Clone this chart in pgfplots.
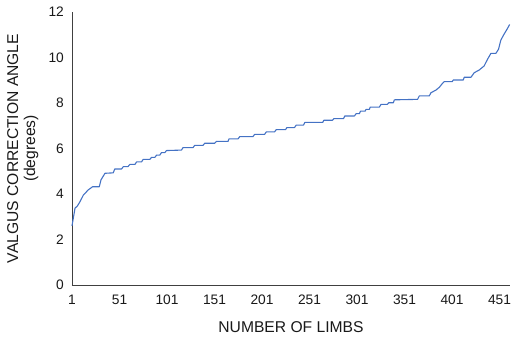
\documentclass[border=0pt]{standalone}
\usepackage{fontspec}
\setmainfont{Liberation Sans}
\usepackage{pgfplots}
\pgfplotsset{compat=1.18}
\definecolor{lineblue}{HTML}{4472C4}
\definecolor{axgray}{HTML}{404040}
\begin{document}
\begin{tikzpicture}
\begin{axis}[
  scale only axis,
  width=438bp, height=273bp,
  xmin=1, xmax=462, ymin=0, ymax=12,
  axis x line=bottom, axis y line=left,
  axis line style={axgray, line width=1pt, -},
  xtick={1,51,101,151,201,251,301,351,401,451},
  ytick={0,2,4,6,8,10,12},
  major tick length=0pt,
  tick label style={font=\fontsize{13.8}{15}\selectfont, /pgf/number format/assume math mode=true, text=black!90},
  /pgf/number format/1000 sep={},
  xticklabel style={anchor=center, yshift=-15bp},
  yticklabel style={anchor=east, inner sep=0pt, xshift=-8bp},
  xlabel={NUMBER OF LIMBS},
  ylabel={VALGUS CORRECTION ANGLE\\(degrees)},
  label style={font=\fontsize{15.7}{17}\selectfont, text=black!90},
  xlabel style={at={(axis description cs:0.5,-0.1538)}, anchor=center},
  ylabel style={at={(axis description cs:-0.1125,0.5)}, anchor=center, align=center},
  clip=false,
]
\addplot[lineblue, line width=1.1pt, line join=round] coordinates {
(1,2.6) (4.2,3.38) (6.6,3.47) (9.4,3.66) (12.9,3.95) (18.1,4.18) (22.7,4.32) (29.7,4.32)
(31.5,4.62) (35.7,4.91) (44.4,4.93) (46,5.10) (53.2,5.10) (54.9,5.2) (59.8,5.2)
(61.9,5.3) (67.2,5.3) (69,5.41) (74.2,5.41) (75.9,5.52) (82.9,5.52) (84.7,5.61)
(88.2,5.61) (90,5.71) (93.4,5.71) (95.2,5.82) (98.7,5.82) (100.5,5.91) (116.2,5.93)
(117.9,6.04) (128.4,6.04) (130.2,6.14) (138.9,6.14) (140.7,6.23) (151.2,6.23)
(153,6.31) (165.2,6.31) (166.2,6.42) (175.7,6.42) (177.5,6.52) (191.4,6.52)
(193.2,6.62) (203.7,6.62) (205.5,6.73) (214.2,6.73) (216,6.83) (225.8,6.83)
(227.2,6.92) (235.2,6.92) (237,7.03) (244.7,7.03) (246.1,7.15) (265,7.15)
(266,7.24) (275.2,7.24) (276.5,7.31) (286.7,7.31) (288.1,7.43) (298.3,7.43)
(300,7.53) (303.5,7.53) (304.6,7.64) (309.5,7.64) (310.5,7.72) (314,7.72)
(314.8,7.82) (324.5,7.82) (326.3,7.94) (332.9,7.94) (334.3,8.01) (339.2,8.01)
(340.3,8.14) (364.7,8.16) (366.5,8.31) (377,8.31) (378.8,8.45) (384.1,8.57)
(387.6,8.69) (390.7,8.85) (392.8,8.94) (401.2,8.94) (402.3,9.01) (412.8,9.01)
(413.8,9.13) (420.9,9.13) (424.3,9.33) (429.6,9.45) (434.8,9.63) (438.3,9.92)
(441.9,10.18) (447.1,10.18) (449.9,10.36) (452.4,10.77) (455.8,11.03) (459,11.25)
(461.6,11.45)
};
\end{axis}
\pgfresetboundingbox
\path[use as bounding box] ([shift={(-72bp,-52bp)}]current axis.south west) rectangle ([shift={(1bp,12bp)}]current axis.north east);
\end{tikzpicture}
\end{document}
